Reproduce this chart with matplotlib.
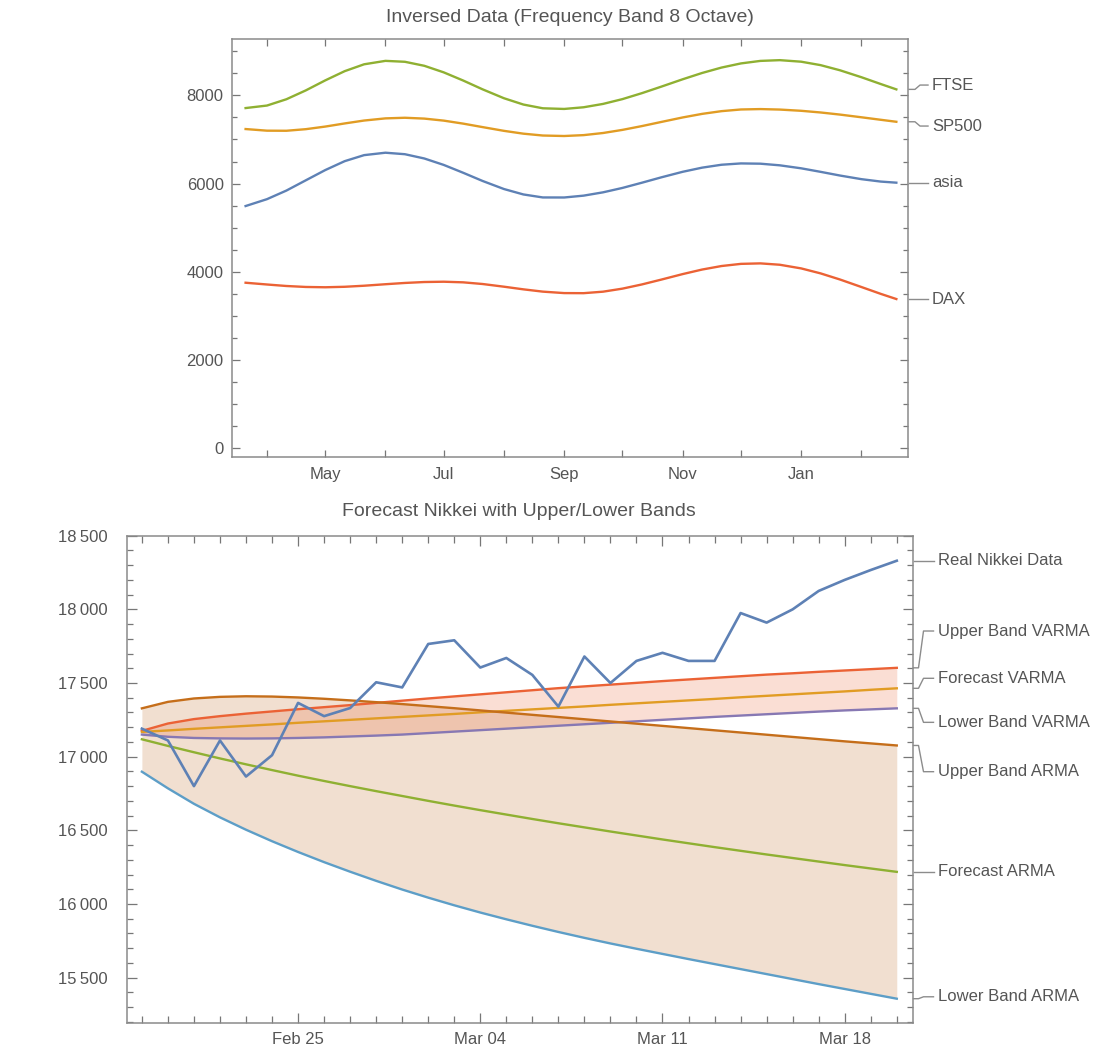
import numpy as np
import pandas as pd
import matplotlib
matplotlib.use("Agg")
import matplotlib.pyplot as plt
import matplotlib.dates as mdates
from matplotlib.ticker import MultipleLocator, FuncFormatter
from matplotlib.transforms import blended_transform_factory

plt.rcParams['font.family'] = ['Liberation Sans', 'DejaVu Sans']

# ---------- inversed band data (8 octave) ----------
band_dates = ['2016-03-21',
              '2016-04-01', '2016-04-11', '2016-04-21', '2016-05-01', '2016-05-11', '2016-05-21',
              '2016-06-01', '2016-06-11', '2016-06-21', '2016-07-01', '2016-07-11', '2016-07-21',
              '2016-08-01', '2016-08-11', '2016-08-21', '2016-09-01', '2016-09-11', '2016-09-21',
              '2016-10-01', '2016-10-11', '2016-10-21', '2016-11-01', '2016-11-11', '2016-11-21',
              '2016-12-01', '2016-12-11', '2016-12-21', '2017-01-01', '2017-01-11', '2017-01-21',
              '2017-02-01', '2017-02-11', '2017-02-19']
asia = [5490, 5646, 5841, 6074, 6306, 6508, 6645, 6700, 6666, 6569, 6423, 6245,
        6059, 5876, 5753, 5685, 5684, 5726, 5801, 5901, 6019, 6141, 6267, 6361,
        6427, 6457, 6451, 6414, 6346, 6266, 6182, 6100, 6045, 6020]
sp500 = [7237, 7200, 7198, 7234, 7293, 7364, 7430, 7479, 7493, 7474, 7428, 7360,
         7281, 7196, 7132, 7090, 7079, 7099, 7147, 7218, 7304, 7398, 7500, 7581,
         7643, 7681, 7690, 7679, 7651, 7613, 7565, 7504, 7447, 7402]
ftse = [7713, 7770, 7913, 8114, 8341, 8550, 8706, 8784, 8763, 8672, 8523, 8338,
        8138, 7936, 7793, 7708, 7693, 7731, 7807, 7916, 8051, 8199, 8366, 8509,
        8632, 8726, 8783, 8800, 8765, 8687, 8570, 8413, 8258, 8137]
dax = [3750, 3710, 3676, 3654, 3647, 3658, 3682, 3716, 3745, 3766, 3773, 3759,
       3721, 3660, 3600, 3548, 3515, 3513, 3547, 3616, 3711, 3821, 3946, 4049,
       4129, 4178, 4189, 4158, 4075, 3962, 3823, 3653, 3497, 3380]

# ---------- Nikkei forecast ----------
nikkei_start = '2017-02-19'
real_nikkei = [17190, 17110, 16800, 17110, 16865, 17010, 17365, 17275, 17330, 17505,
               17470, 17765, 17790, 17605, 17670, 17555, 17340, 17680, 17500, 17650,
               17705, 17650, 17650, 17975, 17910, 18000, 18125, 18200, 18267, 18330]
upper_varma = [17175, 17225, 17255, 17275, 17292, 17307, 17322, 17336, 17350, 17365,
               17380, 17395, 17409, 17423, 17437, 17451, 17465, 17477, 17489, 17501,
               17513, 17524, 17535, 17546, 17557, 17566, 17576, 17585, 17594, 17603]
forecast_varma = [17168, 17178, 17189, 17199, 17209, 17219, 17230, 17240, 17250, 17260,
                  17270, 17280, 17290, 17301, 17311, 17321, 17331, 17341, 17352, 17362,
                  17372, 17382, 17392, 17403, 17413, 17423, 17433, 17443, 17454, 17464]
lower_varma = [17150, 17135, 17127, 17124, 17123, 17124, 17127, 17131, 17137, 17143,
               17150, 17160, 17170, 17180, 17190, 17200, 17210, 17220, 17230, 17240,
               17250, 17260, 17270, 17279, 17288, 17297, 17306, 17314, 17321, 17328]
upper_arma = [17328, 17372, 17395, 17406, 17410, 17408, 17402, 17393, 17382, 17370,
              17357, 17343, 17329, 17314, 17299, 17284, 17269, 17254, 17239, 17224,
              17209, 17194, 17179, 17164, 17149, 17134, 17119, 17104, 17090, 17076]
forecast_arma = [17118, 17073, 17030, 16988, 16948, 16909, 16871, 16835, 16800, 16766,
                 16733, 16700, 16668, 16637, 16607, 16577, 16548, 16520, 16492, 16465,
                 16438, 16412, 16386, 16361, 16336, 16312, 16288, 16264, 16241, 16218]
lower_arma = [16898, 16785, 16680, 16588, 16504, 16426, 16353, 16284, 16219, 16157,
              16098, 16043, 15991, 15942, 15896, 15852, 15810, 15770, 15732, 15696,
              15661, 15626, 15592, 15558, 15524, 15490, 15456, 15423, 15390, 15357]

week_ticks = ['2017-02-25', '2017-03-04', '2017-03-11', '2017-03-18']

BLUE = '#5E81B5'
ORANGE = '#E19C24'
GREEN = '#8FB032'
RED = '#EB6235'
PURPLE = '#8778B3'
BROWN = '#C56E1A'
LIGHTBLUE = '#5D9EC7'
TXT = '#555555'
FRAME = '#8a8a8a'

W, H = 1101, 1048
fig = plt.figure(figsize=(W / 100, H / 100), dpi=100)


def frame_style(ax):
    for s in ax.spines.values():
        s.set_color(FRAME)
        s.set_linewidth(1.1)
    ax.tick_params(which='both', direction='in', top=True, right=True,
                   color='#777777', width=0.9, labelcolor=TXT, labelsize=12)


def callout(ax, width_px, y_end, y_lab, text, xs_px, text_px):
    trans = blended_transform_factory(ax.transAxes, ax.transData)
    xs = [1 + p / width_px for p in xs_px]
    ax.plot(xs, [y_end, y_end, y_lab, y_lab], transform=trans, clip_on=False,
            color='#8c8c8c', lw=1.0)
    ax.text(1 + text_px / width_px, y_lab, text, transform=trans, va='center',
            ha='left', fontsize=12, color=TXT)


def month_label(v, pos):
    d = mdates.num2date(v)
    return d.strftime('%b') if d.month in (5, 7, 9, 11, 1) else ''


# ---------- top panel ----------
ax1 = fig.add_axes([232 / W, 1 - 457 / H, 676 / W, 418 / H])
d1 = pd.to_datetime(band_dates)
ax1.plot(d1, asia, color=BLUE, lw=1.7)
ax1.plot(d1, sp500, color=ORANGE, lw=1.7)
ax1.plot(d1, ftse, color=GREEN, lw=1.7)
ax1.plot(d1, dax, color=RED, lw=1.7)
ax1.set_xlim(pd.Timestamp('2016-03-14'), pd.Timestamp('2017-02-25'))
ax1.set_ylim(-204, 9280)
ax1.yaxis.set_major_locator(MultipleLocator(2000))
ax1.yaxis.set_minor_locator(MultipleLocator(500))
ax1.xaxis.set_major_locator(mdates.MonthLocator())
ax1.xaxis.set_major_formatter(FuncFormatter(month_label))
frame_style(ax1)
ax1.tick_params(axis='x', which='major', length=5, pad=7)
ax1.tick_params(axis='y', which='major', length=6, pad=6)
ax1.tick_params(axis='y', which='minor', length=3.5)
fig.text(570 / W, 1 - 18 / H, 'Inversed Data (Frequency Band 8 Octave)',
         ha='center', va='center', fontsize=14, color=TXT)

top_px = [1, 7, 12, 20]
callout(ax1, 676, ftse[-1], 8235, 'FTSE', top_px, 24)
callout(ax1, 676, sp500[-1], 7305, 'SP500', top_px, 24)
callout(ax1, 676, asia[-1], asia[-1], 'asia', top_px, 24)
callout(ax1, 676, dax[-1], dax[-1], 'DAX', top_px, 24)

# ---------- bottom panel ----------
ax2 = fig.add_axes([126.7 / W, 1 - 1023.3 / H, 785.8 / W, 487.6 / H])
d2 = pd.date_range(nikkei_start, periods=len(real_nikkei), freq='D')
ax2.fill_between(d2, upper_arma, lower_arma, color=(203 / 255, 131 / 255, 71 / 255),
                 alpha=0.25, lw=0)
ax2.fill_between(d2, upper_varma, lower_varma, color=(230 / 255, 90 / 255, 40 / 255),
                 alpha=0.2, lw=0)
ax2.plot(d2, upper_varma, color=RED, lw=1.7)
ax2.plot(d2, forecast_varma, color=ORANGE, lw=1.7)
ax2.plot(d2, lower_varma, color=PURPLE, lw=1.7)
ax2.plot(d2, upper_arma, color=BROWN, lw=1.7)
ax2.plot(d2, forecast_arma, color=GREEN, lw=1.7)
ax2.plot(d2, lower_arma, color=LIGHTBLUE, lw=1.7)
ax2.plot(d2, real_nikkei, color=BLUE, lw=1.9)
ax2.set_xlim(d2[0] - pd.Timedelta(hours=14), d2[-1] + pd.Timedelta(hours=14.5))
ax2.set_ylim(15190, 18500)
ax2.yaxis.set_major_locator(MultipleLocator(500))
ax2.yaxis.set_minor_locator(MultipleLocator(100))
ax2.yaxis.set_major_formatter(FuncFormatter(
    lambda v, pos: f'{int(v) // 1000}\u2009{int(v) % 1000:03d}'))
wk = pd.to_datetime(week_ticks)
ax2.set_xticks(wk)
ax2.set_xticklabels([t.strftime('%b %d') for t in wk])
ax2.xaxis.set_minor_locator(mdates.DayLocator())
frame_style(ax2)
ax2.tick_params(axis='x', which='major', length=7, pad=6)
ax2.tick_params(axis='x', which='minor', length=5)
ax2.tick_params(axis='y', which='major', length=7, pad=14)
ax2.tick_params(axis='y', which='minor', length=4)
fig.text(519 / W, 1 - 511 / H, 'Forecast Nikkei with Upper/Lower Bands',
         ha='center', va='center', fontsize=14, color=TXT)

bot_px = [1, 6, 11, 21]
callout(ax2, 785.8, real_nikkei[-1], real_nikkei[-1], 'Real Nikkei Data', bot_px, 25)
callout(ax2, 785.8, upper_varma[-1], 17853, 'Upper Band VARMA', bot_px, 25)
callout(ax2, 785.8, forecast_varma[-1], 17532, 'Forecast VARMA', bot_px, 25)
callout(ax2, 785.8, lower_varma[-1], 17233, 'Lower Band VARMA', bot_px, 25)
callout(ax2, 785.8, upper_arma[-1], 16898, 'Upper Band ARMA', bot_px, 25)
callout(ax2, 785.8, forecast_arma[-1], forecast_arma[-1], 'Forecast ARMA', bot_px, 25)
callout(ax2, 785.8, lower_arma[-1], 15370, 'Lower Band ARMA', bot_px, 25)

fig.savefig('out.png', dpi=100, facecolor='white')
